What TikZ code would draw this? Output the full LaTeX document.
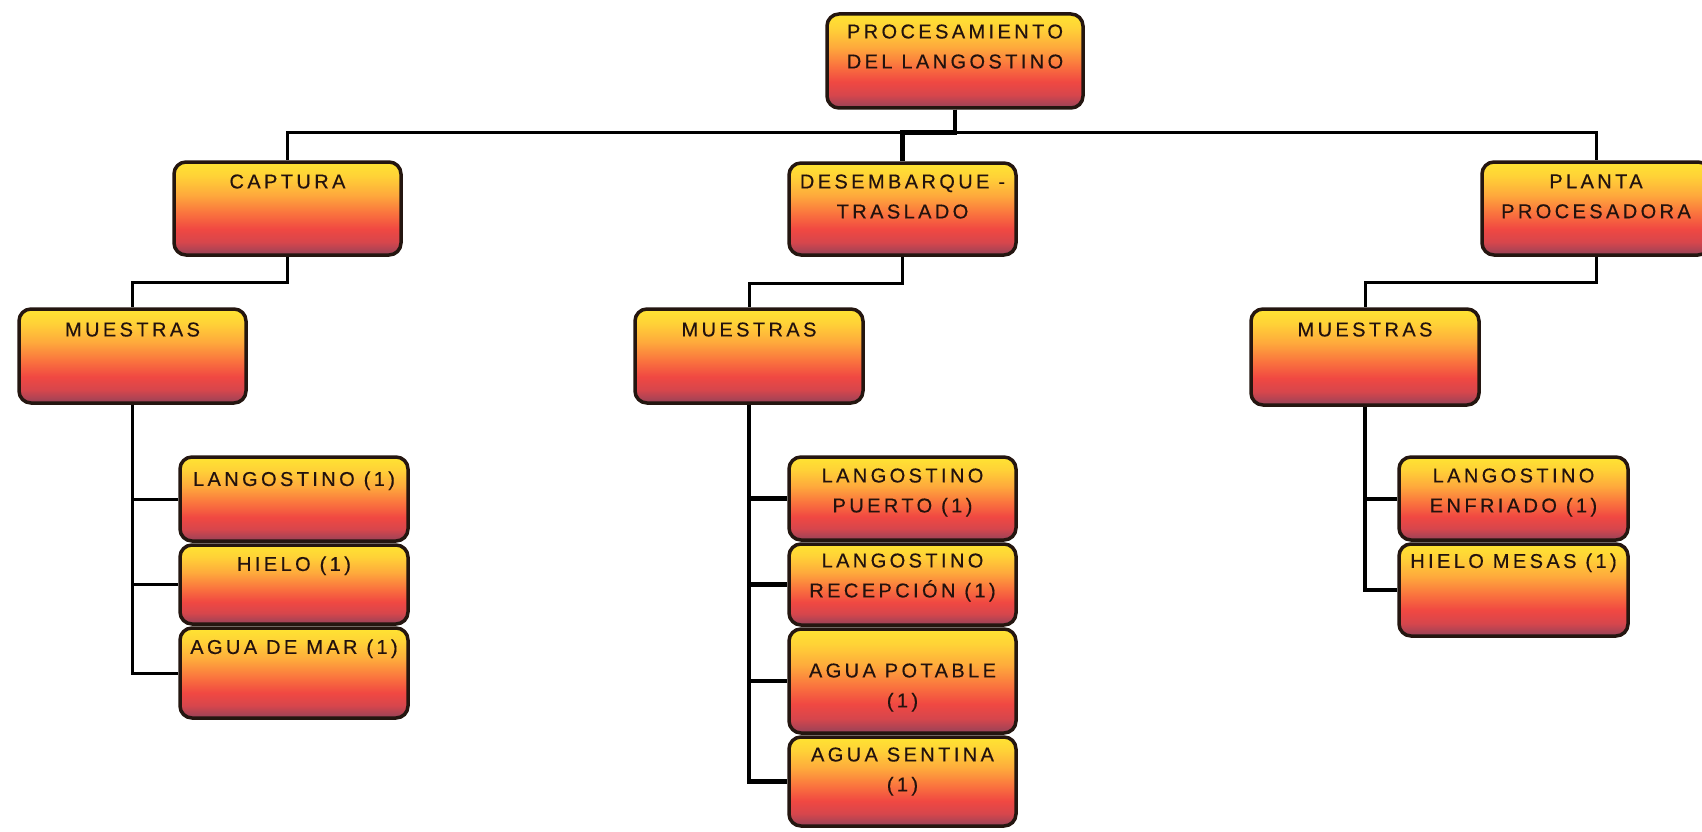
\documentclass[tikz,border=0pt]{standalone}
\usepackage{fontspec}
\setmainfont{Liberation Sans}
\newfontfamily\boxfont[LetterSpace=17,FakeBold=0.4]{Liberation Sans}

% colours of the boxes
\definecolor{celltop}{RGB}{255,228,50}
\definecolor{cellyel}{RGB}{255,210,55}
\definecolor{cellamber}{RGB}{254,170,60}
\definecolor{cellorange}{RGB}{250,115,62}
\definecolor{cellred}{RGB}{240,72,66}
\definecolor{celldeep}{RGB}{215,70,76}
\definecolor{cellbot}{RGB}{150,66,88}
\definecolor{cellline}{RGB}{36,22,16}
\definecolor{celltext}{RGB}{34,18,14}

% yellow -> orange -> red -> mauve, top to bottom
% (the path's bounding box covers the 25bp--75bp band of the shading)
\pgfdeclareverticalshading{cellshade}{100bp}{color(0bp)=(cellbot); color(25bp)=(cellbot); color(32bp)=(celldeep); color(39bp)=(cellred); color(47.5bp)=(cellorange); color(57.5bp)=(cellamber); color(67.5bp)=(cellyel); color(75bp)=(celltop); color(100bp)=(celltop)}

\tikzset{
  cell/.style={rectangle, rounded corners=12pt, draw=cellline, line width=3.5pt,
               shade, shading=cellshade, inner sep=0pt},
  lbl/.style={anchor=north, inner sep=0pt, align=center, text=celltext,
              font=\boxfont\fontsize{20}{30}\selectfont},
  conn/.style={draw=black, line width=3pt},
  heavy/.style={conn, line width=4.5pt},
  medium/.style={conn, line width=4pt},
}

\begin{document}
\begin{tikzpicture}[x=1pt, y=-1pt]
\fill[white] (0,0) rectangle (1702,832);
\useasboundingbox (0,0) rectangle (1702,832);

% ---- top level
\node[cell, minimum width=256pt, minimum height=94pt] (root) at (955,61) {};
\node[lbl] (root-t) at ([yshift=-12pt]root.north) {PROCESAMIENTO\\DEL LANGOSTINO};

% ---- second level
\node[cell, minimum width=227pt, minimum height=93pt] (captura) at (287.5,208.5) {};
\node[lbl] (captura-t) at ([yshift=-14pt]captura.north) {CAPTURA};

\node[cell, minimum width=227pt, minimum height=92pt] (desemb) at (902.5,209) {};
\node[lbl] (desemb-t) at ([yshift=-13pt]desemb.north) {DESEMBARQUE -\\TRASLADO};

\node[cell, minimum width=228pt, minimum height=93pt] (planta) at (1596,208.5) {};
\node[lbl] (planta-t) at ([yshift=-14pt]planta.north) {PLANTA\\PROCESADORA};

% ---- sample groups
\node[cell, minimum width=227pt, minimum height=94pt] (muesL) at (132.5,356) {};
\node[lbl] (muesL-t) at ([yshift=-15pt]muesL.north) {MUESTRAS};

\node[cell, minimum width=228pt, minimum height=94pt] (muesM) at (749,356) {};
\node[lbl] (muesM-t) at ([yshift=-15pt]muesM.north) {MUESTRAS};

\node[cell, minimum width=228pt, minimum height=96pt] (muesR) at (1365,357) {};
\node[lbl] (muesR-t) at ([yshift=-15pt]muesR.north) {MUESTRAS};

% ---- connectors
\draw[conn] (root.south) -- ++(0,23) -| (captura.north);
\draw[conn] (root.south) -- ++(0,23) -| (planta.north);
\draw[heavy] (root.south) -- ++(0,23) -| (desemb.north);

\draw[conn] (captura.south) -- ++(0,26) -| (muesL.north);
\draw[conn] (desemb.south) -- ++(0,27) -| (muesM.north);
\draw[conn] (planta.south) -- ++(0,26) -| (muesR.north);

% ---- leaves, CAPTURA
\node[cell, minimum width=228pt, minimum height=84pt] (l1) at (294,499) {};
\node[lbl] (l1-t) at ([yshift=-16pt]l1.north) {LANGOSTINO (1)};
\node[cell, minimum width=228pt, minimum height=79pt] (l2) at (294,584.5) {};
\node[lbl] (l2-t) at ([yshift=-13pt]l2.north) {HIELO (1)};
\node[cell, minimum width=228pt, minimum height=90pt] (l3) at (294,673) {};
\node[lbl] (l3-t) at ([yshift=-13pt]l3.north) {AGUA DE MAR (1)};

% ---- leaves, DESEMBARQUE - TRASLADO
\node[cell, minimum width=227pt, minimum height=83pt] (m1) at (902.5,498.5) {};
\node[lbl] (m1-t) at ([yshift=-13pt]m1.north) {LANGOSTINO\\PUERTO (1)};
\node[cell, minimum width=227pt, minimum height=81pt] (m2) at (902.5,584.5) {};
\node[lbl] (m2-t) at ([yshift=-11pt]m2.north) {LANGOSTINO\\RECEPCIÓN (1)};
\node[cell, minimum width=227pt, minimum height=104pt] (m3) at (902.5,681) {};
\node[lbl] (m3-t) at ([yshift=-36pt]m3.north) {AGUA POTABLE\\(1)};
\node[cell, minimum width=227pt, minimum height=89pt] (m4) at (902.5,781.5) {};
\node[lbl] (m4-t) at ([yshift=-12pt]m4.north) {AGUA SENTINA\\(1)};

% ---- leaves, PLANTA PROCESADORA
\node[cell, minimum width=229pt, minimum height=83pt] (r1) at (1513.5,498.5) {};
\node[lbl] (r1-t) at ([yshift=-13pt]r1.north) {LANGOSTINO\\ENFRIADO (1)};
\node[cell, minimum width=229pt, minimum height=92pt] (r2) at (1513.5,590) {};
\node[lbl] (r2-t) at ([yshift=-11pt]r2.north) {HIELO MESAS (1)};

% ---- sample branches
\draw[conn] (muesL.south) |- (l1.west);
\draw[conn] (muesL.south) |- (l2.west);
\draw[conn] (muesL.south) |- (l3.west);

\draw[heavy] (muesM.south) |- (m1.west);
\draw[heavy] (muesM.south) |- (m2.west);
\draw[heavy] (muesM.south) |- (m3.west);
\draw[heavy] (muesM.south) |- (m4.west);

\draw[medium] (muesR.south) |- (r1.west);
\draw[medium] (muesR.south) |- (r2.west);
\end{tikzpicture}
\end{document}
